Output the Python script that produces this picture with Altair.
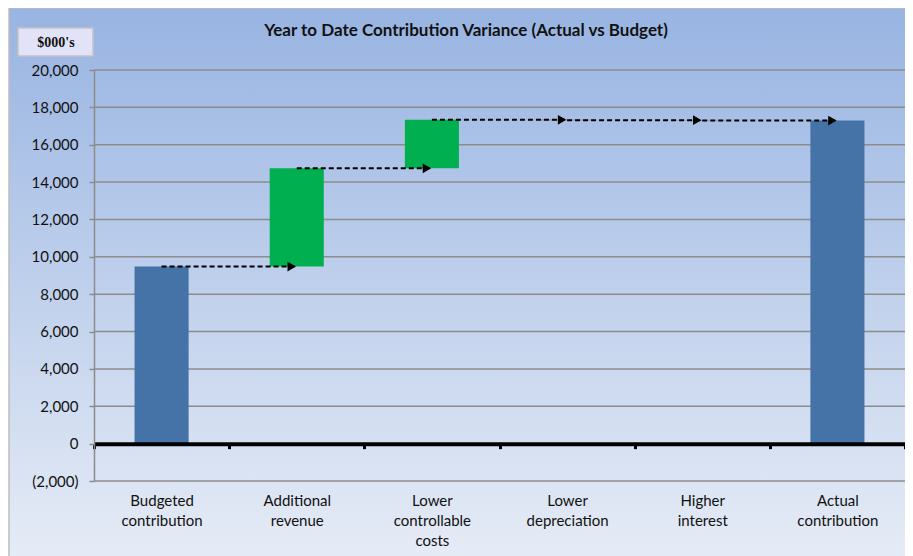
import altair as alt
import pandas as pd

# ---- data ----
categories = ["Budgeted contribution", "Additional revenue", "Lower controllable costs",
              "Lower depreciation", "Higher interest", "Actual contribution"]
amounts = [9480, 5255, 2600, -20, -20, 17295]
kinds = ["total", "increase", "increase", "decrease", "decrease", "total"]
y_ticks = [-2000, 0, 2000, 4000, 6000, 8000, 10000, 12000, 14000, 16000, 18000, 20000]
title_text = "Year to Date Contribution Variance (Actual vs Budget)"
unit_text_value = "$000's"

# ---- waterfall table ----
starts, ends = [], []
run = 0
for a, k in zip(amounts, kinds):
    if k == "total":
        starts.append(0)
        ends.append(a)
        run = a
    else:
        starts.append(run)
        run += a
        ends.append(run)

bars_df = pd.DataFrame({"cat": categories, "start": starts, "end": ends, "kind": kinds})
arrows_df = pd.DataFrame({"cat": categories[:-1], "next": categories[1:], "level": ends[:-1]})
grid_df = pd.DataFrame({"end": y_ticks})
one = pd.DataFrame({"a": [0]})

W, H = 811, 411
PAD = {"left": 86, "top": 62, "right": 0, "bottom": 75}
FONT = "Lato"
zero_px = H * 20000 / 22000

yscale = alt.Scale(domain=[-2000, 20000], nice=False, zero=False)
yaxis = alt.Axis(values=y_ticks, title=None, grid=False,
                 labelExpr="datum.value < 0 ? '(' + format(-datum.value, ',') + ')' : format(datum.value, ',')",
                 domainColor="#8C8C8C", domainWidth=1.5, tickColor="#8C8C8C", tickWidth=1.5,
                 tickSize=5, labelPadding=11, labelFont=FONT, labelFontSize=15,
                 labelColor="#111111", zindex=1)
xscale = alt.Scale(domain=categories, paddingInner=0, paddingOuter=0)
xaxis = alt.Axis(title=None, offset=-(H - zero_px), domainColor="black", domainWidth=4,
                 tickColor="black", tickWidth=3, tickSize=5, tickBand="extent",
                 labelPadding=45, labelExpr="split(datum.label, ' ')", labelAngle=0,
                 labelFont=FONT, labelFontSize=15, labelColor="#111111", labelLineHeight=20,
                 labelBaseline="top", zindex=1)

gradient = {"gradient": "linear", "x1": 0, "y1": 0, "x2": 0, "y2": 1,
            "stops": [{"offset": 0, "color": "#98B4E2"},
                      {"offset": 1, "color": "#E6ECF6"}]}

background = alt.Chart(one).mark_rect(color=gradient, stroke="#BDBDBD", strokeWidth=1.5).encode(
    x=alt.value(-PAD["left"] + 1), x2=alt.value(W + PAD["right"] + 6),
    y=alt.value(-PAD["top"]), y2=alt.value(H + PAD["bottom"] + 4)
)

grid = alt.Chart(grid_df).mark_rule(color="#8C8C8C", strokeWidth=1.5).encode(
    y=alt.Y("end:Q", scale=yscale, axis=yaxis),
    x=alt.value(0), x2=alt.value(W)
)

bars = alt.Chart(bars_df).mark_bar(width={"band": 0.4}).encode(
    x=alt.X("cat:N", sort=categories, scale=xscale, axis=xaxis),
    y=alt.Y("end:Q", scale=yscale, axis=yaxis),
    y2="start:Q",
    color=alt.Color("kind:N", scale=alt.Scale(domain=["total", "increase", "decrease"],
                                              range=["#4572A7", "#00B050", "#C0504D"]), legend=None),
)

rules = alt.Chart(arrows_df).mark_rule(color="black", strokeWidth=2, strokeDash=[5, 3]).encode(
    x=alt.X("cat:N", sort=categories, scale=xscale, axis=xaxis),
    x2="next:N",
    y=alt.Y("level:Q", scale=yscale, axis=yaxis),
)

heads = alt.Chart(arrows_df).mark_point(shape="triangle-right", filled=True, size=95,
                                         color="black", opacity=1, xOffset=-5).encode(
    x=alt.X("next:N", sort=categories, scale=xscale, axis=xaxis),
    y=alt.Y("level:Q", scale=yscale, axis=yaxis),
)

unit_box = alt.Chart(one).mark_rect(fill="#E2E3F8", stroke="#C4C4C4", strokeWidth=1.5).encode(
    x=alt.value(-76), x2=alt.value(-1), y=alt.value(-42), y2=alt.value(-14)
)
unit_text = alt.Chart(one).mark_text(text=unit_text_value, font="Liberation Serif", fontWeight="bold",
                                     fontSize=14, color="#111111", baseline="middle",
                                     align="center").encode(
    x=alt.value(-38), y=alt.value(-27)
)
title = alt.Chart(one).mark_text(text=title_text, font=FONT, fontWeight="bold", fontSize=17,
                                 color="#111111", baseline="middle", align="center").encode(
    x=alt.value(372), y=alt.value(-39)
)

chart = alt.layer(background, grid, bars, rules, heads, unit_box, unit_text, title).properties(
    width=W, height=H,
    padding=PAD,
    autosize=alt.AutoSizeParams(type="none"),
    background="white",
).configure_view(stroke=None)

chart.save("out.html", embed_options={"renderer": "svg", "actions": False})
